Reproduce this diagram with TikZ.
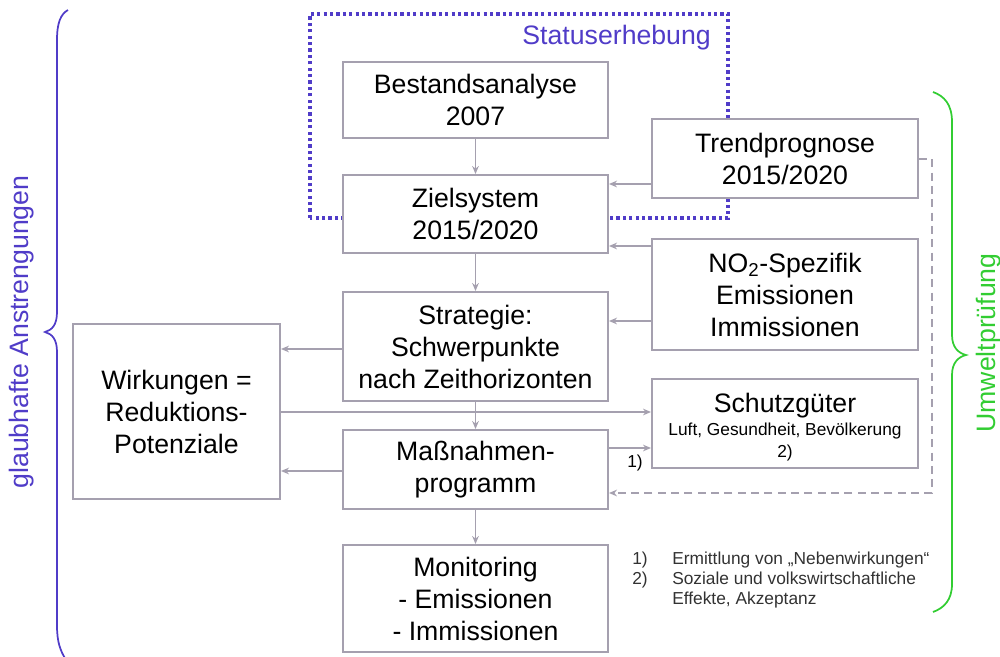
\documentclass[tikz,border=0pt]{standalone}
\usepackage{fontspec}
\setmainfont{Liberation Sans}
\usetikzlibrary{arrows.meta}
\definecolor{boxgray}{RGB}{165,160,175}
\definecolor{dotblue}{RGB}{80,60,200}
\definecolor{bracegreen}{RGB}{50,205,50}
\definecolor{notegray}{RGB}{50,50,50}
\def\u{0.75pt}
\tikzset{
  box/.style={draw=boxgray, line width=1.5pt, fill=white, align=center, inner sep=0pt,
    font=\fontsize{20}{24}\selectfont},
  arr/.style={draw=boxgray, line width=1.3pt, -{Stealth[length=6pt,width=5pt]}},
  dasharr/.style={arr, dash pattern=on 6pt off 4pt},
  plain/.style={inner sep=0pt, font=\fontsize{20}{24}\selectfont},
  small/.style={inner sep=0pt, font=\fontsize{13}{15}\selectfont},
  note/.style={inner sep=0pt, font=\fontsize{13}{15}\selectfont, text=notegray},
}
\begin{document}
\begin{tikzpicture}[x=0.75pt,y=-0.75pt]
\useasboundingbox (0,0) rectangle (1000,657);
% Statuserhebung dotted frame
\draw[dotblue, line width=2.8pt, dash pattern=on 2.4pt off 2.4pt] (310,218) rectangle (728,14);
\node[plain, text=dotblue, anchor=east] (status) at (711,38) {Statuserhebung};
% boxes
\node[box, minimum width=265*\u, minimum height=76*\u] (bestand) at (475.5,100) {Bestandsanalyse\\2007};
\node[box, minimum width=265*\u, minimum height=78*\u] (ziel) at (475.5,214) {Zielsystem\\2015/2020};
\node[box, minimum width=265*\u, minimum height=109*\u] (strat) at (475.5,346.5) {Strategie:\\Schwerpunkte\\nach Zeithorizonten};
\node[box, minimum width=265*\u, minimum height=79*\u] (mass) at (475.5,469.5) {Maßnahmen-\\programm};
\node[box, minimum width=265*\u, minimum height=107*\u] (moni) at (475.5,598.5) {Monitoring\\- Emissionen\\- Immissionen};
\node[box, minimum width=207*\u, minimum height=175*\u] (wirk) at (176.5,411.5) {Wirkungen =\\Reduktions-\\Potenziale};
\node[box, minimum width=266*\u, minimum height=79*\u] (trend) at (785,158.5) {Trendprognose\\2015/2020};
\node[box, minimum width=266*\u, minimum height=111*\u] (no2) at (785,294.5) {NO\textsubscript{2}-Spezifik\\Emissionen\\Immissionen};
\node[box, minimum width=266*\u, minimum height=89*\u] (schutz) at (785,423.5) {};
\node[plain, anchor=base] (schutztitle) at (785,412) {Schutzgüter};
\node[small, anchor=base] (schutzsub) at (785,435) {Luft, Gesundheit, Bevölkerung};
\node[small, anchor=base] (schutzfn) at (785,457) {2)};
% arrows
\draw[arr] (bestand.south) -- (ziel.north);
\draw[arr] (ziel.south) -- (strat.north);
\draw[arr] (strat.south) -- (mass.north);
\draw[arr] (mass.south) -- (moni.north);
\draw[arr] (trend.west |- 0,184) -- (ziel.east |- 0,184);
\draw[arr] (no2.west |- 0,246) -- (ziel.east |- 0,246);
\draw[arr] (no2.west |- 0,321) -- (strat.east |- 0,321);
\draw[arr] (strat.west |- 0,349) -- (wirk.east |- 0,349);
\draw[arr] (mass.west |- 0,471) -- (wirk.east |- 0,471);
\draw[arr] (wirk.east |- 0,412) -- (schutz.west |- 0,412);
\draw[arr] (mass.east |- 0,448) -- (schutz.west |- 0,448);
\node[small, anchor=base west] (fn1) at (627,467) {1)};
\coordinate (dtop) at (932,159);
\coordinate (dbot) at (932,493);
\draw[dasharr] (trend.east |- dtop) -- (dtop) -- (dbot) -- (mass.east |- dbot);
% footnotes
\node[note, anchor=base west] (n1a) at (632,564) {1)};
\node[note, anchor=base west] (n1b) at (672,564) {Ermittlung von „Nebenwirkungen“};
\node[note, anchor=base west] (n2a) at (632,584) {2)};
\node[note, anchor=base west] (n2b) at (672,584) {Soziale und volkswirtschaftliche};
\node[note, anchor=base west] (n2c) at (672,604) {Effekte, Akzeptanz};
% left brace
\draw[dotblue, line width=1.3pt] (68,10) .. controls (61,14) and (57,22) .. (57,40) -- (57,312)
  .. controls (57,325) and (52,330) .. (45,332) .. controls (52,334) and (57,339) .. (57,352)
  -- (57,625) .. controls (57,642) and (60,650) .. (66,660);
\node[plain, text=dotblue, rotate=90] (glaub) at (22,332) {glaubhafte Anstrengungen};
% right brace
\draw[bracegreen, line width=1.3pt] (933,92) .. controls (944,96) and (952,104) .. (952,122) -- (952,335)
  .. controls (952,347) and (958,353) .. (966,355) .. controls (958,357) and (952,363) .. (952,375)
  -- (952,584) .. controls (952,600) and (944,608) .. (933,612);
\node[plain, text=bracegreen, rotate=90] (umwelt) at (989,343) {Umweltprüfung};
\end{tikzpicture}
\end{document}
